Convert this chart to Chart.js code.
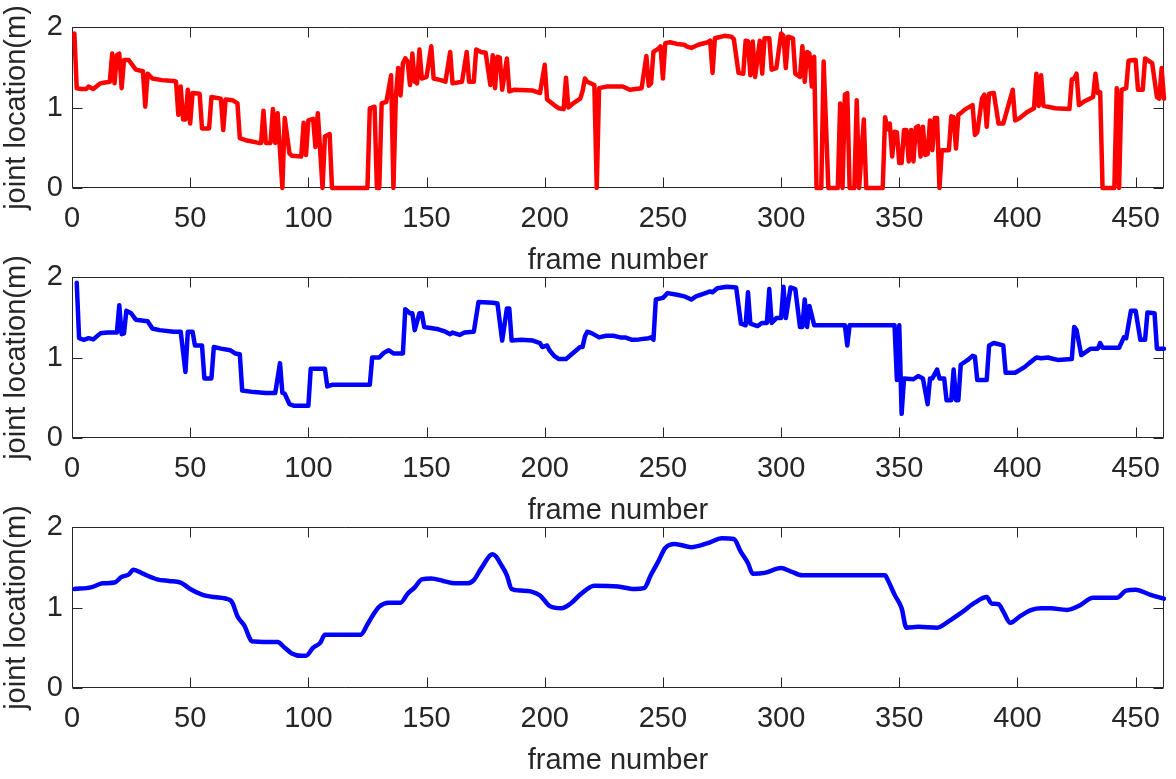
<!DOCTYPE html>
<html><head><meta charset="utf-8">
<script src="https://cdn.jsdelivr.net/npm/chart.js@4.4.1/dist/chart.umd.min.js"></script>
<style>
html,body{margin:0;padding:0;background:#fff;overflow:hidden;}
#wrap{position:relative;width:1176px;height:779px;overflow:hidden;}
canvas{position:absolute;left:0;}
</style></head><body>
<div id="wrap">
<canvas id="c1" width="1176" height="280" style="top:0px"></canvas>
<canvas id="c2" width="1176" height="280" style="top:250px"></canvas>
<canvas id="c3" width="1176" height="280" style="top:500px"></canvas>
</div>
<script>
// ---- tick labels / titles ----
const xTickValues = [0, 50, 100, 150, 200, 250, 300, 350, 400, 450];
const yTickValues = [0, 1, 2];
const xMin = 0, xMax = 462, yMin = 0, yMax = 2;
const xTitle = 'frame number';
const yTitle = 'joint location(m)';

// ---- series 1 (red, raw) ----
const rawFrames = [1,2,4,6,7,9,12,14,16,17,18,19,20,21,22,24,27,30,31,32,34,38,43,44,45,46,47,48,49,50,51,54,55,58,59,63,64,65,68,70,71,74,79,80,81,82,84,85,86,87,89,90,92,93,97,98,99,100,102,103,104,106,107,109,110,125,126,128,129,130,131,133,135,136,137,138,139,140,141,142,143,144,145,146,147,148,150,152,153,156,158,160,161,165,167,168,170,171,173,175,177,178,179,180,181,182,184,185,187,195,198,200,201,204,206,208,209,210,212,215,216,217,218,221,222,223,226,230,233,236,241,243,244,245,246,248,249,250,251,253,256,259,260,262,265,269,270,271,272,276,279,280,282,284,285,286,287,288,289,291,292,293,295,296,298,300,301,302,303,305,306,308,309,310,311,312,313,314,315,317,318,320,324,325,326,327,328,329,331,332,333,335,336,343,344,345,346,347,348,349,350,351,352,353,354,355,356,357,358,359,360,361,362,363,364,365,366,367,368,371,372,373,374,375,376,378,381,382,383,385,386,387,388,390,392,394,398,399,401,404,407,408,409,410,411,416,422,423,424,425,426,428,432,433,434,435,436,441,442,443,444,446,447,449,450,451,453,454,456,457,459,460,461,462];
const rawValues = [1.92,1.24,1.23,1.23,1.26,1.23,1.30,1.31,1.32,1.67,1.30,1.65,1.67,1.24,1.59,1.59,1.47,1.45,1.01,1.42,1.36,1.34,1.33,1.32,0.91,1.26,0.85,0.85,1.22,0.80,1.18,1.17,0.74,0.74,1.13,1.11,0.72,1.10,1.09,1.05,0.62,0.59,0.56,0.56,0.96,0.56,0.56,0.98,0.56,0.93,0,0.87,0.43,0.40,0.39,0.81,0.41,0.84,0.86,0.51,0.93,0,0.64,0.67,0,0,0.99,1.01,0,0,1.05,1.07,1.40,0,1.13,1.49,1.15,1.55,1.61,1.57,1.28,1.67,1.32,1.30,1.72,1.36,1.38,1.76,1.36,1.34,1.32,1.69,1.30,1.32,1.69,1.32,1.32,1.72,1.69,1.68,1.28,1.65,1.24,1.63,1.62,1.22,1.61,1.20,1.22,1.21,1.18,1.53,1.10,1.03,0.99,0.98,1.37,1.00,1.05,1.11,1.20,1.36,1.32,1.28,0,1.24,1.26,1.26,1.26,1.22,1.24,1.64,1.27,1.30,1.69,1.73,1.76,1.36,1.80,1.81,1.79,1.78,1.76,1.74,1.78,1.81,1.83,1.43,1.86,1.89,1.88,1.85,1.43,1.42,1.83,1.82,1.40,1.82,1.38,1.83,1.42,1.86,1.86,1.47,1.49,1.92,1.89,1.49,1.88,1.86,1.42,1.38,1.76,1.32,1.69,1.67,1.26,1.63,0,0,1.57,0,0,1.05,0,1.16,1.18,0,0,1.09,0,0.85,0,0,0.88,0.73,0.80,0.39,0.70,0.69,0.31,0.31,0.72,0.72,0.33,0.72,0.33,0.75,0.77,0.39,0.76,0.41,0.42,0.84,0.47,0.87,0.87,0,0.47,0.47,0.89,0.88,0.49,0.91,0.93,0.98,1.03,0.66,0.69,1.11,1.16,0.76,1.17,1.18,0.80,0.80,1.22,0.84,0.87,0.94,0.99,1.42,1.02,1.40,1.02,0.99,0.98,1.35,1.36,1.42,1.03,1.07,1.13,1.42,1.18,1.19,0,0,1.24,0,1.22,1.24,1.58,1.59,1.59,1.22,1.22,1.61,1.57,1.55,1.13,1.11,1.49,1.11];

// ---- series 2 (blue, filtered) ----
const midFrames = [2,3,5,7,9,12,15,18,19,20,21,22,23,25,27,32,34,37,43,46,48,49,51,52,55,56,59,60,63,67,69,71,72,77,82,86,88,89,90,92,94,100,101,107,108,110,126,127,130,132,134,136,140,141,143,144,145,147,148,149,151,155,158,160,161,164,166,170,172,178,180,182,184,185,186,190,195,198,199,201,202,204,206,209,211,213,215,216,217,218,220,223,226,229,232,234,237,240,244,245,246,247,250,252,256,259,262,264,268,270,271,273,277,281,283,285,286,287,290,292,294,295,296,298,300,301,302,304,306,308,309,310,311,312,314,327,328,329,348,349,350,351,352,356,358,360,362,363,364,366,367,369,370,372,373,374,375,376,379,381,382,383,387,388,390,394,395,399,403,405,408,410,413,414,417,423,424,425,427,429,431,434,435,436,443,445,446,448,450,452,454,455,458,459,462];
const midValues = [1.93,1.24,1.22,1.24,1.225,1.30,1.31,1.31,1.31,1.65,1.29,1.30,1.58,1.55,1.47,1.45,1.36,1.34,1.32,1.32,0.82,1.32,1.32,1.15,1.15,0.74,0.74,1.13,1.11,1.09,1.05,1.04,0.59,0.57,0.56,0.56,0.93,0.56,0.55,0.42,0.40,0.40,0.86,0.86,0.64,0.66,0.66,1.00,1.00,1.06,1.09,1.05,1.05,1.60,1.55,1.55,1.34,1.55,1.55,1.38,1.37,1.35,1.32,1.29,1.31,1.28,1.31,1.32,1.69,1.68,1.67,1.21,1.61,1.61,1.21,1.22,1.21,1.18,1.13,1.15,1.09,1.02,0.98,0.98,1.03,1.08,1.13,1.13,1.26,1.32,1.30,1.25,1.27,1.27,1.25,1.25,1.22,1.225,1.24,1.25,1.22,1.72,1.74,1.80,1.78,1.76,1.72,1.76,1.80,1.82,1.81,1.86,1.88,1.87,1.42,1.40,1.81,1.42,1.39,1.43,1.43,1.85,1.43,1.49,1.49,1.88,1.49,1.87,1.85,1.38,1.38,1.72,1.38,1.64,1.40,1.40,1.15,1.40,1.40,0.72,1.40,0.30,0.74,0.73,0.77,0.74,0.42,0.74,0.74,0.85,0.74,0.74,0.47,0.47,0.85,0.47,0.47,0.91,0.97,1.02,1.01,0.72,0.72,1.15,1.18,1.15,0.81,0.81,0.88,0.93,1.00,0.99,1.00,0.99,0.97,0.98,1.38,1.34,1.03,1.07,1.11,1.11,1.18,1.12,1.12,1.25,1.24,1.58,1.58,1.22,1.22,1.56,1.55,1.11,1.11];

// ---- series 3 (blue, smoothed) ----
const smoothFrames = [1,8,13,18,21,24,26,30,36,41,46,50,55,60,67,68,70,73,75,76,83,87,90,93,97,99,102,105,107,122,125,127,130,134,139,142,145,148,152,157,162,167,170,173,178,182,184,186,190,194,198,202,207,211,215,221,231,238,242,245,248,251,255,262,269,275,280,283,286,288,293,300,304,309,344,345,348,351,353,358,366,371,376,382,387,389,392,394,397,401,406,410,414,421,426,432,442,446,450,456,462];
const smoothValues = [1.23,1.25,1.30,1.31,1.38,1.41,1.47,1.42,1.35,1.33,1.31,1.23,1.16,1.13,1.09,1.05,0.89,0.77,0.63,0.58,0.57,0.57,0.50,0.43,0.40,0.40,0.50,0.56,0.66,0.66,0.79,0.89,1.01,1.06,1.06,1.17,1.25,1.35,1.36,1.33,1.30,1.30,1.34,1.48,1.66,1.51,1.40,1.23,1.21,1.20,1.15,1.02,0.99,1.05,1.16,1.27,1.26,1.23,1.24,1.41,1.57,1.74,1.79,1.75,1.80,1.86,1.85,1.69,1.55,1.42,1.43,1.49,1.45,1.40,1.40,1.35,1.16,0.99,0.75,0.76,0.75,0.83,0.93,1.06,1.13,1.05,1.04,0.95,0.81,0.89,0.97,0.99,0.99,0.97,1.02,1.12,1.12,1.21,1.22,1.16,1.11];

const FONT = '"Liberation Sans", Arial, Helvetica, sans-serif';
const TXT = '#262626';
const TICK_LEN = 10;
const FS = 29;

const framePlugin = {
  id: 'frameBox',
  beforeDatasetsDraw(chart) {
    const {ctx, chartArea: {left, right, top, bottom}, scales: {x, y}} = chart;
    ctx.save();
    ctx.strokeStyle = TXT;
    ctx.lineWidth = 1;
    ctx.beginPath();
    const L = Math.round(left) + 0.5, R = Math.round(right) - 0.5, T = Math.round(top) + 0.5, B = Math.round(bottom) - 0.5;
    ctx.rect(L, T, R - L, B - T);
    x.ticks.forEach(t => {
      const px = Math.round(x.getPixelForValue(t.value)) + 0.5;
      ctx.moveTo(px, B); ctx.lineTo(px, B - TICK_LEN);
      ctx.moveTo(px, T); ctx.lineTo(px, T + TICK_LEN);
    });
    y.ticks.forEach(t => {
      const py = Math.round(y.getPixelForValue(t.value)) + 0.5;
      ctx.moveTo(L, py); ctx.lineTo(L + TICK_LEN, py);
      ctx.moveTo(R, py); ctx.lineTo(R - TICK_LEN, py);
    });
    ctx.stroke();
    ctx.restore();
  }
};

function makeChart(id, frames, values, color, smooth) {
  const pts = frames.map((f, i) => ({x: f, y: values[i]}));
  return new Chart(document.getElementById(id), {
    type: 'line',
    data: {datasets: [{
      data: pts, borderColor: color, backgroundColor: color, borderWidth: 4.5,
      pointRadius: 0, pointHoverRadius: 0, fill: false,
      tension: smooth ? 0.4 : 0, cubicInterpolationMode: smooth ? 'monotone' : 'default',
      clip: 8, borderJoinStyle: 'round', borderCapStyle: 'round'
    }]},
    options: {
      responsive: false, animation: false, devicePixelRatio: 1, events: [],
      layout: {padding: {top: 27, right: 12, left: 0, bottom: 0}},
      plugins: {legend: {display: false}, tooltip: {enabled: false}},
      scales: {
        x: {
          type: 'linear', min: xMin, max: xMax,
          grid: {display: false, drawTicks: false}, border: {display: false},
          afterBuildTicks: s => { s.ticks = xTickValues.map(v => ({value: v})); },
          afterFit: s => { s.height = 92; s.paddingLeft = 0; s.paddingRight = 0; },
          ticks: {padding: 14, color: TXT, font: {family: FONT, size: FS}, maxRotation: 0, autoSkip: false,
                  callback: v => String(v)},
          title: {display: true, text: xTitle, color: TXT, font: {family: FONT, size: FS}, padding: {top: 0, bottom: 2}}
        },
        y: {
          type: 'linear', min: yMin, max: yMax,
          grid: {display: false, drawTicks: false}, border: {display: false},
          afterBuildTicks: s => { s.ticks = yTickValues.map(v => ({value: v})); },
          afterFit: s => { s.width = 72; s.paddingTop = 0; s.paddingBottom = 0; },
          ticks: {padding: 9, color: TXT, font: {family: FONT, size: FS}, autoSkip: false,
                  callback: v => String(v)},
          title: {display: true, text: yTitle, color: TXT, font: {family: FONT, size: FS}, padding: {top: 0, bottom: 0}}
        }
      }
    },
    plugins: [framePlugin]
  });
}

makeChart('c1', rawFrames, rawValues, '#ff0000', false);
makeChart('c2', midFrames, midValues, '#0000ff', false);
makeChart('c3', smoothFrames, smoothValues, '#0000ff', true);
</script>
</body></html>
